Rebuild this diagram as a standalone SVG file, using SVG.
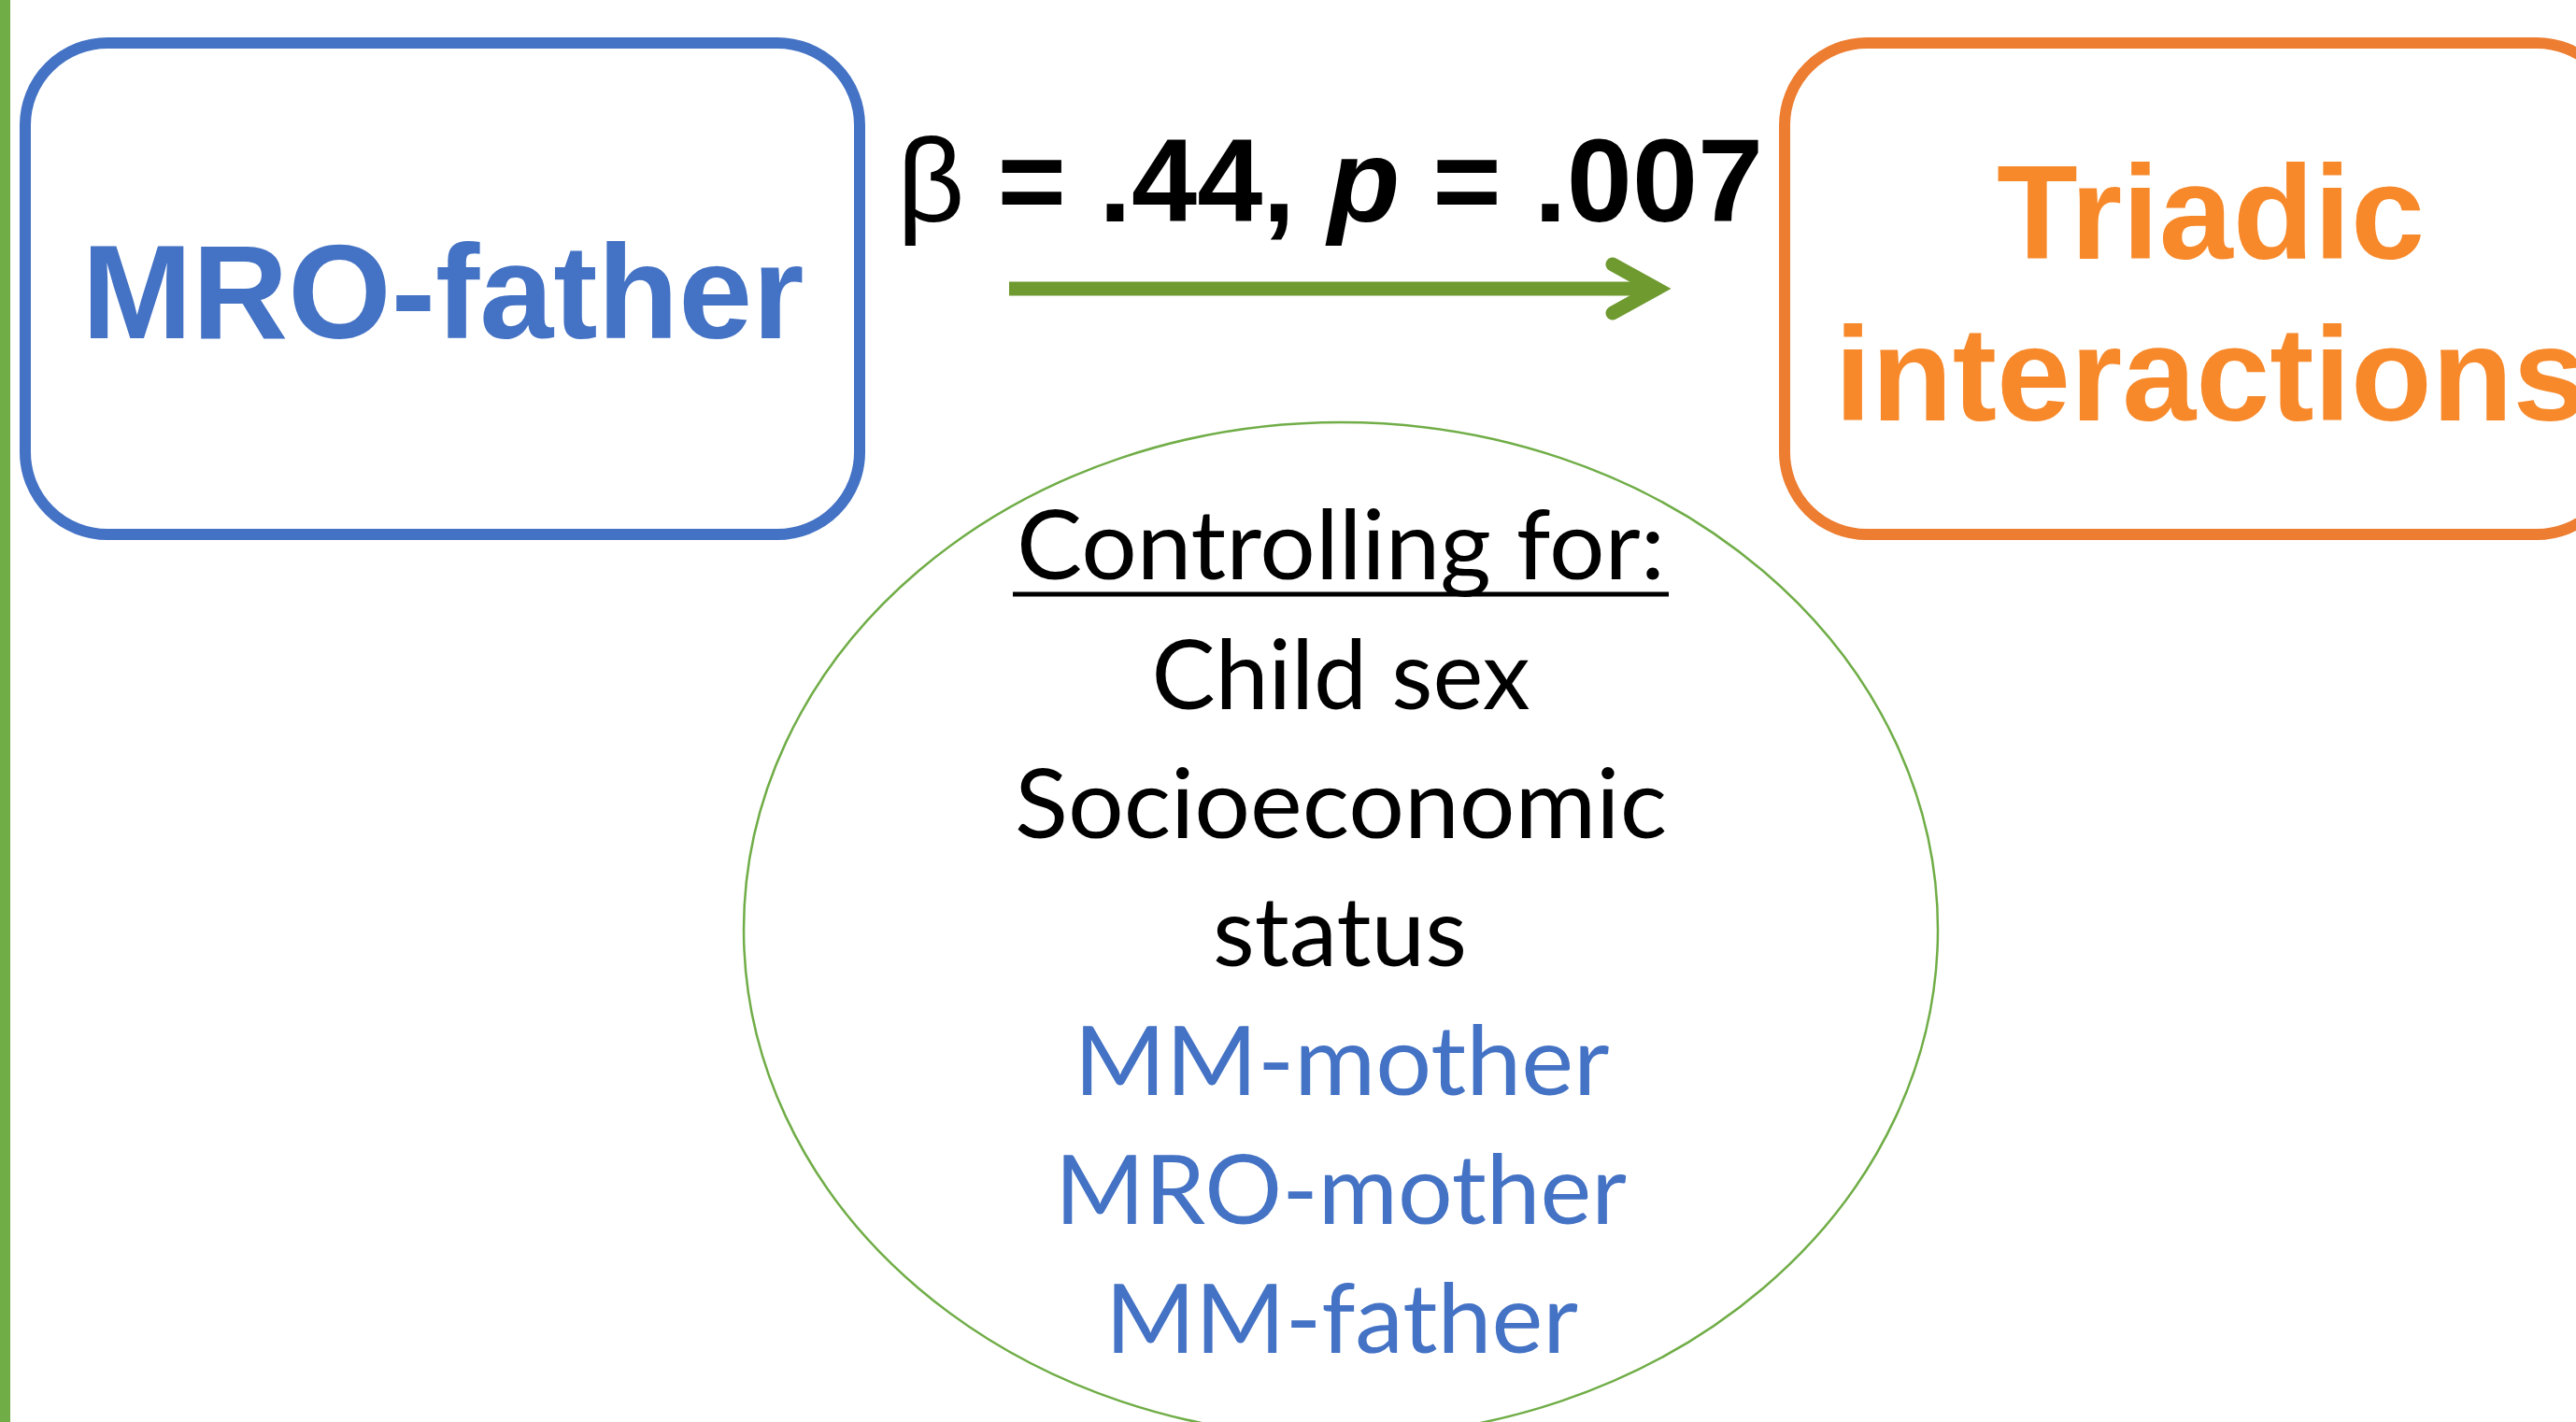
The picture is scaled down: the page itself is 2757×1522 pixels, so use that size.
<svg xmlns="http://www.w3.org/2000/svg" width="2757" height="1522" viewBox="0 0 2757 1522">
  <style>
    .box { fill: #ffffff; stroke-width: 12; }
    .boxlabel { font-family: "Liberation Sans", Arial, sans-serif; font-weight: bold; font-size: 142px; text-anchor: middle; }
    .ctl { font-family: Lato, "Open Sans", sans-serif; font-size: 102px; text-anchor: middle; }
    .blk { fill: #000000; }
    .blu { fill: #4472C4; }
    .stat { font-family: "Liberation Sans", Arial, sans-serif; font-weight: bold; font-size: 126px; fill: #000000; }
  </style>
  <defs>
    <marker id="chev" markerUnits="userSpaceOnUse" viewBox="-60 -40 80 80" refX="0" refY="0" markerWidth="80" markerHeight="80" orient="auto" overflow="visible">
      <path d="M -47 -26 L 0 0 L -47 26" fill="none" stroke="#6E9A30" stroke-width="15" stroke-linecap="round" stroke-linejoin="miter" stroke-miterlimit="6"/>
    </marker>
  </defs>
  <rect x="0" y="0" width="2757" height="1522" fill="#ffffff"/>
  <rect id="left-bar" x="0" y="0" width="11" height="1522" fill="#70AD47"/>

  <g id="node-mro-father">
    <rect class="box" x="27" y="46" width="893" height="526" rx="88" ry="88" stroke="#4472C4"/>
    <text class="boxlabel" x="474" y="362" fill="#4472C4">MRO-father</text>
  </g>

  <g id="node-triadic">
    <rect class="box" x="1910" y="46" width="893" height="526" rx="88" ry="88" stroke="#ED7D31"/>
    <text class="boxlabel" x="2366" y="277" fill="#F7892B">Triadic</text>
    <text class="boxlabel" x="2366" y="450" fill="#F7892B">interactions</text>
  </g>

  <g id="node-controls">
    <ellipse cx="1435" cy="995" rx="639" ry="543" fill="none" stroke="#70AD47" stroke-width="2.5"/>
    <text class="ctl blk" x="1435" y="620" textLength="694" lengthAdjust="spacingAndGlyphs">Controlling for:</text>
    <line x1="1084" y1="636" x2="1786" y2="636" stroke="#000000" stroke-width="5"/>
    <text class="ctl blk" x="1435" y="759" textLength="405" lengthAdjust="spacingAndGlyphs">Child sex</text>
    <text class="ctl blk" x="1435" y="897" textLength="698" lengthAdjust="spacingAndGlyphs">Socioeconomic</text>
    <text class="ctl blk" x="1434" y="1034" textLength="272" lengthAdjust="spacingAndGlyphs">status</text>
    <text class="ctl blu" x="1436" y="1172" textLength="573" lengthAdjust="spacingAndGlyphs">MM-mother</text>
    <text class="ctl blu" x="1435" y="1310" textLength="612" lengthAdjust="spacingAndGlyphs">MRO-mother</text>
    <text class="ctl blu" x="1436" y="1448" textLength="506" lengthAdjust="spacingAndGlyphs">MM-father</text>
  </g>

  <g id="connectors">
    <line x1="1080" y1="309" x2="1773" y2="309" stroke="#6E9A30" stroke-width="15" marker-end="url(#chev)"/>
    <text class="stat" x="960" y="237"><tspan font-weight="normal">β</tspan> = .44, <tspan font-style="italic">p</tspan> = .007</text>
  </g>
</svg>
